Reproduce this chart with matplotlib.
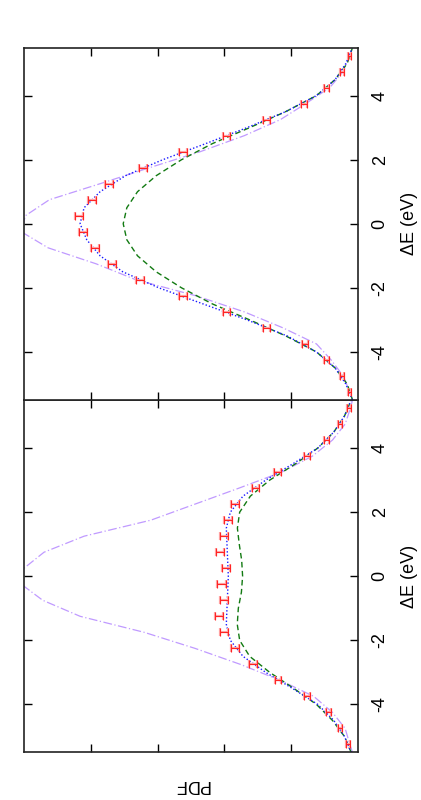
import matplotlib
matplotlib.use('Agg')
import matplotlib.pyplot as plt
import numpy as np

plt.rcParams['font.family'] = ['Liberation Sans', 'DejaVu Sans']

# energy grid for the model curves (eV)
grid_de = [-5.5, -5.0, -4.5, -4.0, -3.5, -3.0, -2.5, -2.0, -1.5, -1.0, -0.5, 0.0,
           0.5, 1.0, 1.5, 2.0, 2.5, 3.0, 3.5, 4.0, 4.5, 5.0, 5.5]

# energies of the histogram points / purple reference curve
pts_de = [-5.25, -4.75, -4.25, -3.75, -3.25, -2.75, -2.25, -1.75, -1.25, -0.75, -0.25,
          0.25, 0.75, 1.25, 1.75, 2.25, 2.75, 3.25, 3.75, 4.25, 4.75, 5.25]
purple_de = [-5.5] + pts_de + [5.5]

# ---- panel A (bottom) ----
a_pts = [0.0073, 0.013, 0.0222, 0.038, 0.0597, 0.0784, 0.092, 0.1003, 0.104, 0.1003, 0.102,
         0.099, 0.103, 0.100, 0.097, 0.092, 0.0766, 0.060, 0.0384, 0.0234, 0.013, 0.0067]
a_err = [0.0012, 0.0015, 0.0018, 0.0022, 0.0025, 0.0028, 0.003, 0.003, 0.0031, 0.0031, 0.0031,
         0.0031, 0.0031, 0.0031, 0.003, 0.003, 0.0028, 0.0025, 0.0022, 0.0018, 0.0015, 0.0012]
a_blue = [0.005, 0.010, 0.018, 0.030, 0.049, 0.069, 0.086, 0.0955, 0.0985, 0.098, 0.0975, 0.097,
          0.0975, 0.098, 0.0985, 0.0955, 0.086, 0.069, 0.049, 0.030, 0.018, 0.010, 0.005]
a_green = [0.005, 0.010, 0.019, 0.031, 0.048, 0.066, 0.081, 0.0885, 0.0903, 0.0895, 0.0872, 0.0863,
           0.087, 0.0888, 0.0902, 0.0885, 0.0805, 0.066, 0.047, 0.030, 0.018, 0.010, 0.005]
a_purple = [0.004, 0.006, 0.0095, 0.019, 0.033, 0.058, 0.088, 0.122, 0.16, 0.208, 0.236, 0.252,
            0.250, 0.235, 0.205, 0.155, 0.122, 0.089, 0.057, 0.034, 0.019, 0.0095, 0.0055, 0.004]

# ---- panel B (top) ----
b_pts = [0.006, 0.0122, 0.0234, 0.0397, 0.0683, 0.0983, 0.131, 0.163, 0.184, 0.197, 0.206,
         0.209, 0.199, 0.186, 0.161, 0.131, 0.0983, 0.0683, 0.0404, 0.0234, 0.0122, 0.006]
b_err = [0.0012, 0.0015, 0.0018, 0.0022, 0.0025, 0.0028, 0.003, 0.003, 0.003, 0.003, 0.003,
         0.003, 0.003, 0.003, 0.003, 0.003, 0.0028, 0.0025, 0.0022, 0.0018, 0.0015, 0.0012]
b_blue = [0.004, 0.009, 0.017, 0.031, 0.053, 0.083, 0.116, 0.149, 0.176, 0.193, 0.203, 0.208,
          0.205, 0.193, 0.174, 0.146, 0.114, 0.083, 0.054, 0.031, 0.017, 0.009, 0.004]
b_green = [0.004, 0.008, 0.017, 0.031, 0.054, 0.081, 0.109, 0.132, 0.151, 0.165, 0.173, 0.1757,
           0.173, 0.165, 0.151, 0.132, 0.109, 0.081, 0.054, 0.031, 0.017, 0.008, 0.004]
b_purple = [0.004, 0.006, 0.011, 0.020, 0.031, 0.056, 0.085, 0.121, 0.166, 0.196, 0.232, 0.252,
            0.249, 0.231, 0.193, 0.156, 0.118, 0.085, 0.058, 0.039, 0.021, 0.011, 0.006, 0.004]

de_ticks = [-4, -2, 0, 2, 4]
pdf_ticks = [0.05, 0.10, 0.15, 0.20]

fig = plt.figure(figsize=(4.21, 8.0), dpi=100)
ax_a = fig.add_axes([0.057, 0.0594, 0.793, 0.4406])
ax_b = fig.add_axes([0.057, 0.5, 0.793, 0.4406])


def draw_panel(ax, pts, err, blue, green, purple):
    ax.plot(purple, purple_de, color='#c09aff', lw=0.9, dashes=(7, 2, 1, 2))
    ax.plot(green, grid_de, color='#127a12', lw=1.0, dashes=(4, 2.5))
    ax.plot(blue, grid_de, color='#1a1aff', lw=1.0, dashes=(1, 1.5))
    # light halo + thin red bar, like the anti-aliased original
    ax.errorbar(pts, pts_de, xerr=err, fmt='none', ecolor='#ffa8a8', elinewidth=1.6,
                capsize=3.0, capthick=1.6)
    ax.errorbar(pts, pts_de, xerr=err, fmt='none', ecolor='#ff2424', elinewidth=0.8,
                capsize=3.0, capthick=0.8)
    ax.set_xlim(0.25, 0.0)
    ax.set_ylim(-5.5, 5.5)
    ax.set_yticks(de_ticks)
    ax.set_yticklabels([str(t) for t in de_ticks], rotation=90, va='center', fontsize=13)
    ax.set_xticks(pdf_ticks)
    ax.set_xticklabels([])
    ax.tick_params(direction='in', length=6, width=1.0, left=True, right=True,
                   top=True, bottom=True, labelleft=False, labelright=True, pad=10)
    ax.set_ylabel('ΔE (eV)', rotation=90, fontsize=13, labelpad=9)
    ax.yaxis.set_label_position('right')
    for s in ax.spines.values():
        s.set_linewidth(1.2)
        s.set_color('#222222')


draw_panel(ax_a, a_pts, a_err, a_blue, a_green, a_purple)
draw_panel(ax_b, b_pts, b_err, b_blue, b_green, b_purple)

fig.text(0.454, 0.019, 'PDF', rotation=180, ha='center', va='center', fontsize=13)

fig.savefig('out.png', dpi=100)
